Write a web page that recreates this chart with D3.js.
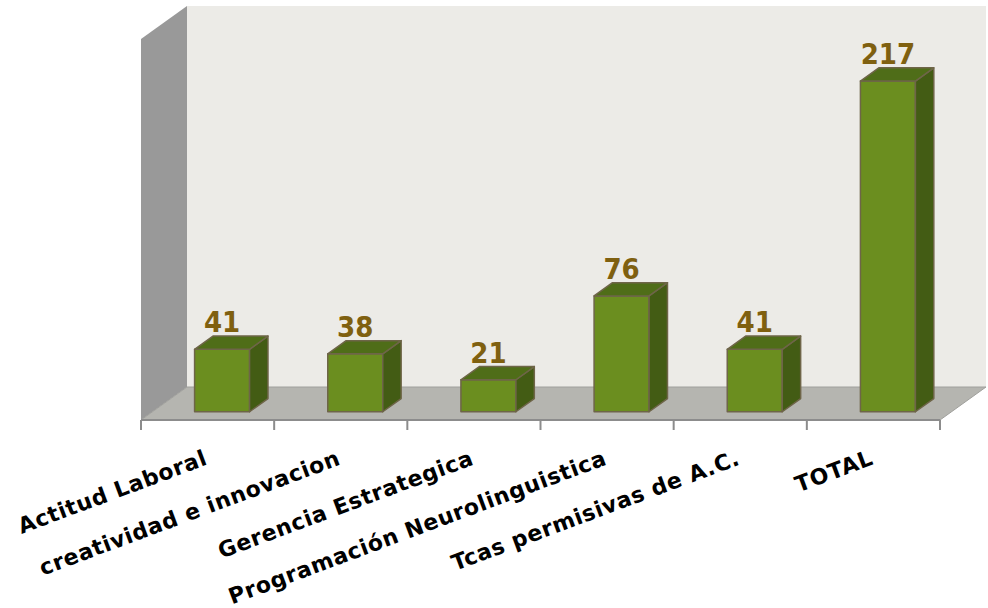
<!DOCTYPE html>
<html>
<head>
<meta charset="utf-8">
<script src="https://cdn.jsdelivr.net/npm/d3@7"></script>
<style>
  body { margin: 0; background: #fff; }
  svg { display: block; }
</style>
</head>
<body>
<div id="chart"></div>
<script>
// data
const categories = [
  "Actitud Laboral",
  "creatividad e innovacion",
  "Gerencia Estrategica",
  "Programación Neurolinguistica",
  "Tcas permisivas de A.C.",
  "TOTAL"
];
const values = [41, 38, 21, 76, 41, 217];
const valueMax = 250;

function chart() {
  const width = 988, height = 608;
  // plot box: front floor edge and depth offset of the 3D box
  const left = 141, right = 940, floorY = 420;
  const depthX = 46, depthY = 33;
  const wallH = 381;

  const svg = d3.select("#chart").append("svg")
    .attr("width", width).attr("height", height);

  const x = d3.scaleBand().domain(categories).range([left, right]).paddingInner(0);
  const y = d3.scaleLinear().domain([0, valueMax]).range([0, wallH]);

  // project a (screen x, value, depth) to page coords
  const P = (sx, v, z) => [sx + z * depthX, floorY - y(v) - z * depthY];
  const pts = (arr) => arr.map((p) => p.join(",")).join(" ");

  // left side wall
  svg.append("polygon")
    .attr("points", pts([P(left, 0, 0), P(left, valueMax, 0), P(left, valueMax, 1), P(left, 0, 1)]))
    .attr("fill", "#999999");
  // back wall
  svg.append("polygon")
    .attr("points", pts([P(left, 0, 1), P(left, valueMax, 1), P(right, valueMax, 1), P(right, 0, 1)]))
    .attr("fill", "#ecebe7");
  // floor
  svg.append("polygon")
    .attr("points", pts([P(left, 0, 0), P(left, 0, 1), P(right, 0, 1), P(right, 0, 0)]))
    .attr("fill", "#b5b5b0")
    .attr("stroke", "#a0a09c")
    .attr("stroke-width", 1);

  // axis line + ticks on the front floor edge
  const ax = svg.append("g").attr("stroke", "#8c8c8c").attr("stroke-width", 2);
  ax.append("line").attr("x1", left).attr("x2", right).attr("y1", floorY).attr("y2", floorY);
  const tickXs = categories.map((c) => x(c)).concat([right]);
  ax.selectAll("line.tick").data(tickXs).join("line")
    .attr("class", "tick")
    .attr("x1", (d) => d).attr("x2", (d) => d)
    .attr("y1", floorY).attr("y2", floorY + 10);

  // bars
  const z0 = 0.25, z1 = 0.65, barW = 55;
  const data = categories.map((c, i) => ({ cat: c, value: values[i] }));
  const bars = svg.append("g").selectAll("g").data(data).join("g");
  const bx = (d) => x(d.cat) + x.bandwidth() / 2 + 3 - barW / 2;
  const barStroke = "#6e6548";

  // front face
  bars.append("polygon")
    .attr("points", (d) => pts([P(bx(d), 0, z0), P(bx(d), d.value, z0), P(bx(d) + barW, d.value, z0), P(bx(d) + barW, 0, z0)]))
    .attr("fill", "#6b8e1f").attr("stroke", barStroke).attr("stroke-width", 1.5)
    .attr("stroke-linejoin", "round");
  // right side
  bars.append("polygon")
    .attr("points", (d) => pts([P(bx(d) + barW, 0, z0), P(bx(d) + barW, d.value, z0), P(bx(d) + barW, d.value, z1), P(bx(d) + barW, 0, z1)]))
    .attr("fill", "#435c14").attr("stroke", barStroke).attr("stroke-width", 1.5)
    .attr("stroke-linejoin", "round");
  // top
  bars.append("polygon")
    .attr("points", (d) => pts([P(bx(d), d.value, z0), P(bx(d), d.value, z1), P(bx(d) + barW, d.value, z1), P(bx(d) + barW, d.value, z0)]))
    .attr("fill", "#4f6d18").attr("stroke", barStroke).attr("stroke-width", 1.5)
    .attr("stroke-linejoin", "round");

  // value labels
  bars.append("text")
    .attr("x", (d) => P(bx(d) + barW / 2, d.value, z0)[0])
    .attr("y", (d) => P(bx(d), d.value, z1)[1] - 4)
    .attr("text-anchor", "middle")
    .attr("fill", "#7f6010")
    .style("font-family", "'DejaVu Sans Condensed', 'DejaVu Sans', sans-serif")
    .style("font-weight", "bold")
    .style("font-size", "29px")
    .text((d) => d.value);

  // category labels, rotated
  svg.append("g").selectAll("text").data(categories).join("text")
    .attr("transform", (d) => `translate(${x(d) + x.bandwidth() / 2 + 1},464) rotate(-20.5)`)
    .attr("text-anchor", "end")
    .attr("fill", "#000")
    .style("font-family", "'DejaVu Sans', sans-serif")
    .style("font-weight", "bold")
    .style("font-size", "22px")
    .style("letter-spacing", "0.6px")
    .text((d) => d);
}

chart();
</script>
</body>
</html>
